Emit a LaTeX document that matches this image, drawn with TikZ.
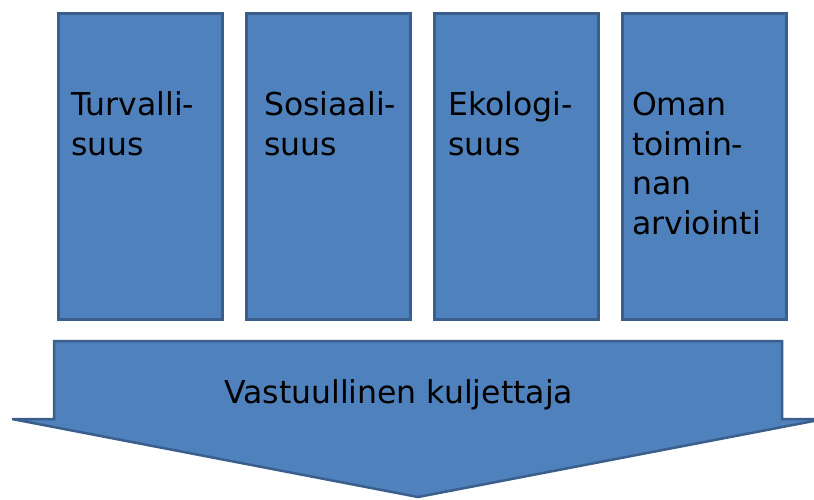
\documentclass[tikz,border=0pt]{standalone}
\usepackage{fontspec}
\setmainfont{DejaVu Sans}
\definecolor{boxfill}{HTML}{4F81BD}
\definecolor{boxline}{HTML}{3A5F8C}
\begin{document}
\begin{tikzpicture}[x=1pt,y=-1pt,
  pillar/.style={draw=boxline, line width=2.5pt, fill=boxfill, rectangle, minimum width=164pt, minimum height=306pt, inner sep=0pt, anchor=north west},
  label/.style={anchor=base west, align=left, inner sep=0pt, font=\fontsize{31.5}{39.5}\selectfont, text=black}]
\useasboundingbox (0,0) rectangle (814,499);
\begin{scope}
\clip (0,0) rectangle (814,499);
\node[pillar] (b1) at (57,12) {};
\node[pillar] (b2) at (245,12) {};
\node[pillar] (b3) at (433,12) {};
\node[pillar] (b4) at (621,12) {};
\node[label] (t1) at (71,155) {Turvalli-\\suus};
\node[label] (t2) at (264,155) {Sosiaali-\\suus};
\node[label] (t3) at (448,155) {Ekologi-\\suus};
\node[label] (t4) at (632,234) {Oman\\toimin-\\nan\\arviointi};
\draw[draw=boxline, line width=2.5pt, fill=boxfill, line join=miter]
  (54,341) -- (782,341) -- (782,419) -- (824,419) -- (418,497) -- (12,419) -- (54,419) -- cycle;
\node[label] (arr) at (224,403) {Vastuullinen kuljettaja};
\end{scope}
\end{tikzpicture}
\end{document}
